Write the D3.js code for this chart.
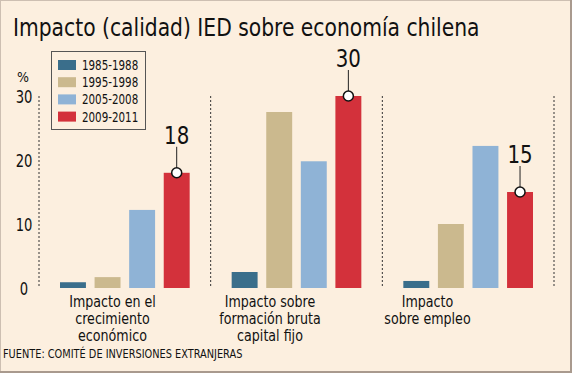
<!DOCTYPE html>
<html>
<head>
<meta charset="utf-8">
<script src="https://cdn.jsdelivr.net/npm/d3@7"></script>
<style>
  html, body { margin: 0; padding: 0; background: #fcefdf; }
  svg text { font-family: "DejaVu Sans Condensed", "DejaVu Sans", sans-serif; fill: #111; }
</style>
</head>
<body>
<div class="svg-container"></div>
<script>
// data
const categories = ['crecimiento', 'fbcf', 'empleo'];
const category_labels = [
    ['Impacto en el', 'crecimiento', 'económico'],
    ['Impacto sobre', 'formación bruta', 'capital fijo'],
    ['Impacto', 'sobre empleo']
];
const periods = ['1985-1988', '1995-1998', '2005-2008', '2009-2011'];
const values_1985 = [0.9, 2.5, 1.1];
const values_1995 = [1.7, 27.5, 10.0];
const values_2005 = [12.2, 19.8, 22.2];
const values_2009 = [18, 30, 15];
const y_ticks = [0, 10, 20, 30];

const colors = ['#3a6e8b', '#cbb98e', '#8fb3d6', '#d3313b'];
const series = [values_1985, values_1995, values_2005, values_2009];

var W = 572, H = 373;

// the original font is still a bit narrower: squeeze each text horizontally around its x
function condense(sel, k) {
    sel.attr('transform', function () {
        var x = +d3.select(this).attr('x');
        return `translate(${x},0) scale(${k},1) translate(${-x},0)`;
    });
}

var svg = d3.select('.svg-container')
    .append('svg')
    .attr('width', W)
    .attr('height', H)
    .style('display', 'block');

// frame
svg.append('rect')
    .attr('x', 0.5).attr('y', 0.5)
    .attr('width', W - 1).attr('height', H - 1)
    .attr('fill', '#fcefdf')
    .attr('stroke', '#cdbfb2');
svg.append('path')
    .attr('d', `M${W - 1},0 V${H - 1} H0`)
    .attr('fill', 'none')
    .attr('stroke', '#a99a8e')
    .attr('stroke-width', 2);

// title
svg.append('text')
    .attr('x', 13).attr('y', 36)
    .style('font-size', '24px')
    .text('Impacto (calidad) IED sobre economía chilena')
    .call(condense, 0.94);

// scales
var xScale = d3.scaleBand().domain(categories).range([39, 554]).paddingInner(0).paddingOuter(0);
var xInner = d3.scaleBand().domain(d3.range(periods.length))
    .range([21, xScale.bandwidth() - 21]).padding(0.25).paddingOuter(0);
var yScale = d3.scaleLinear().domain([0, 30]).range([288, 96]);
var labelX = d3.scalePoint().domain(categories).range([112.5, 427.5]);

// dotted separators
var seps = categories.map(c => xScale(c)).concat([xScale.range()[1]]);
svg.selectAll('.sep')
    .data(seps).enter().append('line')
    .attr('class', 'sep')
    .attr('x1', d => d).attr('x2', d => d)
    .attr('y1', yScale(30)).attr('y2', yScale(0))
    .attr('stroke', '#333')
    .attr('stroke-width', 1)
    .attr('stroke-dasharray', '2,2');

// y ticks
svg.selectAll('.ytick')
    .data(y_ticks).enter().append('text')
    .attr('class', 'ytick')
    .attr('x', 24)
    .attr('y', d => yScale(d) + 7)
    .attr('text-anchor', 'middle')
    .style('font-size', '17px')
    .text(d => d)
    .call(condense, 0.86);
svg.append('text')
    .attr('x', 23).attr('y', 82)
    .attr('text-anchor', 'middle')
    .style('font-size', '14px')
    .text('%');

// bars
var bars = [];
series.forEach(function (vals, i) {
    vals.forEach(function (v, j) {
        bars.push({cat: categories[j], i: i, v: v});
    });
});
svg.selectAll('.bar')
    .data(bars).enter().append('rect')
    .attr('class', 'bar')
    .attr('x', d => xScale(d.cat) + xInner(d.i))
    .attr('y', d => yScale(d.v))
    .attr('width', xInner.bandwidth())
    .attr('height', d => yScale(0) - yScale(d.v))
    .attr('fill', d => colors[d.i]);

// callouts on the last series
var last = bars.filter(d => d.i === periods.length - 1);
var cx = d => xScale(d.cat) + xInner(d.i) + xInner.bandwidth() / 2;
svg.selectAll('.callout-line')
    .data(last).enter().append('line')
    .attr('x1', cx).attr('x2', cx)
    .attr('y1', d => yScale(d.v) - 26)
    .attr('y2', d => yScale(d.v))
    .attr('stroke', '#222')
    .attr('stroke-width', 1);
svg.selectAll('.callout-dot')
    .data(last).enter().append('circle')
    .attr('cx', cx)
    .attr('cy', d => yScale(d.v))
    .attr('r', 5)
    .attr('fill', 'white')
    .attr('stroke', '#111')
    .attr('stroke-width', 1.5);
svg.selectAll('.callout-text')
    .data(last).enter().append('text')
    .attr('x', cx)
    .attr('y', d => yScale(d.v) - 28.5)
    .attr('text-anchor', 'middle')
    .style('font-size', '25px')
    .text(d => d.v)
    .call(condense, 0.88);

// category labels (one text per group, lines as tspans)
category_labels.forEach(function (lines, j) {
    var t = svg.append('text')
        .attr('x', labelX(categories[j]))
        .attr('text-anchor', 'middle')
        .style('font-size', '16px');
    t.selectAll('tspan')
        .data(lines).enter().append('tspan')
        .attr('x', labelX(categories[j]))
        .attr('y', (d, k) => 307 + k * 17)
        .text(d => d);
    t.call(condense, 0.88);
});

// legend
var legend = svg.append('g');
legend.append('rect')
    .attr('x', 51.5).attr('y', 51.5)
    .attr('width', 94).attr('height', 78)
    .attr('fill', '#fcefdf')
    .attr('stroke', '#555');
legend.selectAll('.sw')
    .data(periods).enter().append('rect')
    .attr('x', 58)
    .attr('y', (d, i) => 60 + i * 17.2)
    .attr('width', 18).attr('height', 10)
    .attr('fill', (d, i) => colors[i]);
legend.selectAll('.lt')
    .data(periods).enter().append('text')
    .attr('x', 82)
    .attr('y', (d, i) => 70 + i * 17.2)
    .style('font-size', '13.5px')
    .text(d => d)
    .call(condense, 0.85);

// source
svg.append('text')
    .attr('x', 3).attr('y', 358)
    .style('font-size', '12.5px')
    .text('FUENTE: COMITÉ DE INVERSIONES EXTRANJERAS')
    .call(condense, 0.87);
</script>
</body>
</html>
